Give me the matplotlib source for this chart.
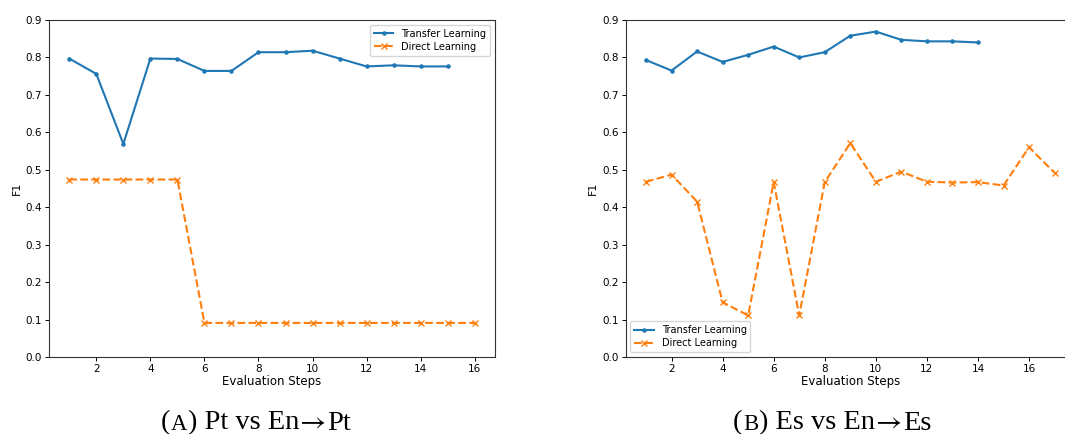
import matplotlib
matplotlib.use("Agg")
import matplotlib.pyplot as plt
from matplotlib.offsetbox import TextArea, HPacker, AnnotationBbox

# Panel A: Pt vs En->Pt
steps_a_transfer = list(range(1, 16))
f1_a_transfer = [0.797, 0.756, 0.569, 0.797, 0.796, 0.764, 0.764, 0.814,
                 0.814, 0.818, 0.797, 0.776, 0.779, 0.776, 0.776]
steps_a_direct = list(range(1, 17))
f1_a_direct = [0.474, 0.474, 0.474, 0.474, 0.474, 0.091, 0.091, 0.091,
               0.091, 0.091, 0.091, 0.091, 0.091, 0.091, 0.091, 0.091]

# Panel B: Es vs En->Es
steps_b_transfer = list(range(1, 15))
f1_b_transfer = [0.793, 0.765, 0.816, 0.788, 0.807, 0.829, 0.800, 0.814,
                 0.858, 0.869, 0.847, 0.843, 0.843, 0.840]
steps_b_direct = list(range(1, 18))
f1_b_direct = [0.468, 0.487, 0.415, 0.146, 0.111, 0.467, 0.111, 0.467,
               0.571, 0.468, 0.495, 0.468, 0.466, 0.467, 0.458, 0.560, 0.492]

series_labels = ["Transfer Learning", "Direct Learning"]
# caption parts: panel letter (small caps), target, source, target
caption_letters = ["A", "B"]
caption_langs = [("Pt", "En", "Pt"), ("Es", "En", "Es")]

W, H = 1065, 434
fig = plt.figure(figsize=(W / 100, H / 100), dpi=100)

FS = 7.5
panels = [
    dict(rect=(49, 20, 446, 337), t=(steps_a_transfer, f1_a_transfer),
         d=(steps_a_direct, f1_a_direct), loc="upper right"),
    dict(rect=(625.6, 20, 449.4, 337), t=(steps_b_transfer, f1_b_transfer),
         d=(steps_b_direct, f1_b_direct), loc="lower left"),
]

for p in panels:
    x0, y0, w, h = p["rect"]
    ax = fig.add_axes([x0 / W, (H - y0 - h) / H, w / W, h / H])
    ax.plot(*p["t"], color="#1f77b4", marker=".", markersize=4.5,
            linewidth=1.5, label=series_labels[0])
    ax.plot(*p["d"], color="#ff7f0e", marker="x", markersize=5,
            linewidth=1.5, linestyle="--", label=series_labels[1])
    ax.set_ylim(0, 0.9)
    ax.set_yticks([i / 10 for i in range(10)])
    ax.set_xticks(range(2, 17, 2))
    ax.tick_params(labelsize=FS, length=3, width=0.7, pad=2)
    for s in ax.spines.values():
        s.set_linewidth(0.8)
        s.set_color("#333333")
    ax.set_xlabel("Evaluation Steps", fontsize=FS + 1, labelpad=1)
    ax.set_ylabel("F1", fontsize=FS + 0.5, labelpad=3)
    ax.legend(loc=p["loc"], fontsize=FS - 0.5, handlelength=2.0,
              borderpad=0.4, labelspacing=0.3, framealpha=0.8)

CAP = 20.5
big = dict(family="Liberation Serif", fontsize=CAP)
small = dict(family="Liberation Serif", fontsize=CAP * 0.8)
arrow = dict(family="STIXGeneral", fontsize=CAP)


def caption(letter, langs, xc):
    tgt, src, tgt2 = langs
    parts = [TextArea("(", textprops=big),
             TextArea(letter, textprops=small),
             TextArea(f") {tgt} vs {src}", textprops=big),
             TextArea("\u2192", textprops=arrow),
             TextArea(tgt2, textprops=big)]
    box = HPacker(children=parts, align="baseline", pad=0, sep=0.5)
    ab = AnnotationBbox(box, (xc / W, -1.5 / H), xycoords="figure fraction",
                        box_alignment=(0.5, 0.0), frameon=False, pad=0)
    fig.add_artist(ab)


caption(caption_letters[0], caption_langs[0], 256)
caption(caption_letters[1], caption_langs[1], 832)

fig.savefig("out.png", dpi=100)
